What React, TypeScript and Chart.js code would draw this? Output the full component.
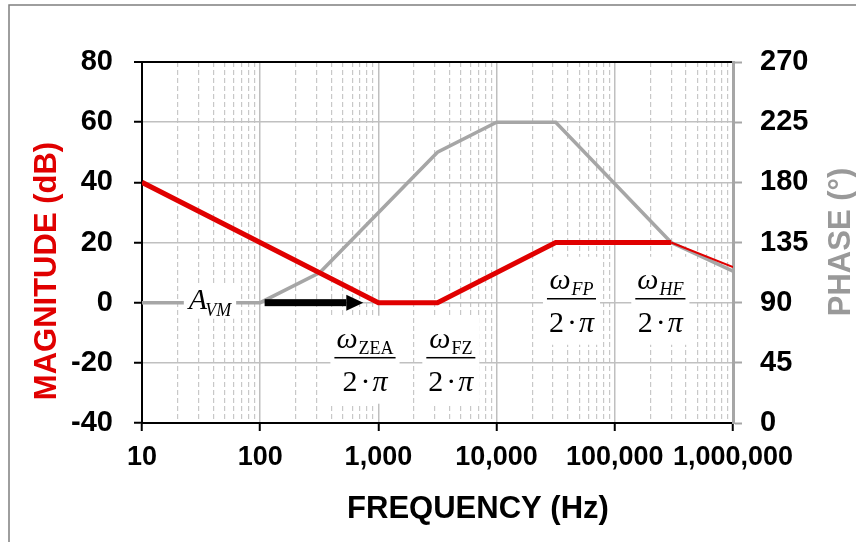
import React, { useEffect, useRef } from 'react';
import { Chart, registerables } from 'chart.js';

Chart.register(...registerables);

// ---- data ----
const magFreq = [10, 1000, 3162, 31623, 300000, 1000000];
const magnitudeDb = [40, 0, 0, 20, 20, 11.8];
const phaseFreq = [10, 100, 320, 3162, 10000, 31623, 300000, 1000000];
const phaseDeg = [90, 90, 112.5, 202.5, 225, 225, 135, 113.6];

const freqDecades = [10, 100, 1000, 10000, 100000, 1000000];
const freqLabels = ['10', '100', '1,000', '10,000', '100,000', '1,000,000'];
const minorMultipliers = [1, 2, 3, 4, 5, 6, 7, 8, 9];

const magMin = -40;
const magMax = 80;
const magStep = 20;
const phaseMin = 0;
const phaseMax = 270;
const phaseStep = 45;

const xTitle = 'FREQUENCY (Hz)';
const yTitle = 'MAGNITUDE (dB)';
const y1Title = 'PHASE (°)';

// annotation anchors in data units (frequency, dB)
const fractionSubs = ['ZEA', 'FZ', 'FP', 'HF'];
const fractionSubItalic = [false, false, true, true];
const fractionFreq = [770, 4100, 43000, 243000];
const fractionDb = [-18.3, -18.3, 1.3, 1.3];
const gainMain = 'A';
const gainSub = 'VM';
const gainFreq = 37.6;
const gainDb = -2;
const arrowFreq = [109, 745];
const arrowDb = 0;

const RED = '#e00000';
const GRAY = '#a6a6a6';
const SANS = '"Liberation Sans", Arial, sans-serif';
const SERIF = '"Liberation Serif", "Times New Roman", serif';

const xTickValues: number[] = [];
freqDecades.forEach((d, i) => {
  if (i === freqDecades.length - 1) {
    xTickValues.push(d);
  } else {
    minorMultipliers.forEach((m) => xTickValues.push(d * m));
  }
});

const decadeIndex = (v: number) => freqDecades.findIndex((d) => Math.abs(v - d) / d < 1e-6);

const overlayPlugin = {
  id: 'overlay',
  beforeDraw(chart: any) {
    const ctx = chart.ctx;
    ctx.save();
    ctx.fillStyle = '#fff';
    ctx.fillRect(0, 0, chart.width, chart.height);
    ctx.strokeStyle = '#7f7f7f';
    ctx.lineWidth = 1.5;
    ctx.strokeRect(9, 5, chart.width + 20, chart.height + 20);
    ctx.restore();
  },
  afterDatasetsDraw(chart: any) {
    const ctx = chart.ctx;
    const xs = chart.scales.x;
    const ys = chart.scales.y;
    ctx.save();

    // gain label A_VM
    {
      const cx = xs.getPixelForValue(gainFreq);
      const by = ys.getPixelForValue(gainDb);
      ctx.font = 'italic 30px ' + SERIF;
      const wA = ctx.measureText(gainMain).width;
      ctx.font = 'italic 18px ' + SERIF;
      const wS = ctx.measureText(gainSub).width;
      const w = wA + wS - 2;
      const left = cx - w / 2;
      ctx.fillStyle = '#fff';
      ctx.fillRect(left - 5, by - 25, w + 10, 35);
      ctx.fillStyle = '#000';
      ctx.textBaseline = 'alphabetic';
      ctx.textAlign = 'left';
      ctx.font = 'italic 30px ' + SERIF;
      ctx.fillText(gainMain, left, by);
      ctx.font = 'italic 18px ' + SERIF;
      ctx.fillText(gainSub, left + wA - 2, by + 7);
    }

    // arrow
    {
      const x0 = xs.getPixelForValue(arrowFreq[0]);
      const x1 = xs.getPixelForValue(arrowFreq[1]);
      const ay = ys.getPixelForValue(arrowDb);
      const head = 17;
      ctx.fillStyle = '#000';
      ctx.fillRect(x0, ay - 3.5, x1 - head - x0, 7);
      ctx.beginPath();
      ctx.moveTo(x1 - head, ay - 8);
      ctx.lineTo(x1, ay);
      ctx.lineTo(x1 - head, ay + 8);
      ctx.closePath();
      ctx.fill();
    }

    // fractions
    fractionSubs.forEach((sub, i) => {
      const cx = xs.getPixelForValue(fractionFreq[i]);
      const bar = ys.getPixelForValue(fractionDb[i]);
      const mainF = 'italic 30px ' + SERIF;
      const subF = (fractionSubItalic[i] ? 'italic ' : '') + '18px ' + SERIF;
      ctx.font = mainF;
      const wO = ctx.measureText('ω').width;
      ctx.font = subF;
      const wS = ctx.measureText(sub).width;
      const numW = wO + wS + 1;
      ctx.font = 'italic 30px ' + SERIF;
      const wPi = ctx.measureText('π').width;
      const denW = 30 + wPi;
      const barW = Math.max(numW, denW) + 4;
      // white box
      ctx.fillStyle = '#fff';
      ctx.fillRect(cx - barW / 2 - 4, bar - 42, barW + 8, 88);
      // numerator
      ctx.fillStyle = '#000';
      ctx.textAlign = 'left';
      ctx.textBaseline = 'alphabetic';
      const nl = cx - numW / 2;
      ctx.font = mainF;
      ctx.fillText('ω', nl, bar - 10);
      ctx.font = subF;
      ctx.fillText(sub, nl + wO + 1, bar - 4);
      // bar
      ctx.fillRect(cx - barW / 2, bar - 0.75, barW, 1.5);
      // denominator
      const dl = cx - denW / 2;
      ctx.font = '30px ' + SERIF;
      ctx.fillText('2', dl, bar + 33);
      ctx.textAlign = 'center';
      ctx.fillText('·', dl + 23, bar + 33);
      ctx.textAlign = 'left';
      ctx.font = 'italic 30px ' + SERIF;
      ctx.fillText('π', dl + 30, bar + 33);
    });

    ctx.restore();
  },
  afterDraw(chart: any) {
    const ctx = chart.ctx;
    ctx.save();
    ctx.font = 'bold 31px ' + SANS;
    ctx.textBaseline = 'alphabetic';
    ctx.textAlign = 'center';
    // x title
    ctx.fillStyle = '#000';
    ctx.fillText(xTitle, 478, 518);
    // left title
    ctx.save();
    ctx.translate(56, 271);
    ctx.rotate(-Math.PI / 2);
    ctx.fillStyle = RED;
    ctx.fillText(yTitle, 0, 0);
    ctx.restore();
    // right title
    ctx.save();
    ctx.translate(850, 242);
    ctx.rotate(-Math.PI / 2);
    ctx.fillStyle = '#999999';
    ctx.fillText(y1Title, 0, 0);
    ctx.restore();
    ctx.restore();
  },
};

export default function App() {
  const ref = useRef<HTMLCanvasElement | null>(null);
  useEffect(() => {
    if (!ref.current) return;
    const tickFont = { family: SANS, size: 29, weight: 'bold' as const };
    const xTickFont = { family: SANS, size: 27, weight: 'bold' as const };
    const chart = new Chart(ref.current, {
      type: 'line',
      data: {
        datasets: [
          {
            label: 'Magnitude',
            data: magFreq.map((f, i) => ({ x: f, y: magnitudeDb[i] })),
            borderColor: RED,
            backgroundColor: RED,
            borderWidth: 5,
            pointRadius: 0,
            yAxisID: 'y',
            order: 0,
            segment: {
              borderWidth: (c: any) => (c.p0.parsed.x >= 299999 ? 2 : 5),
            },
          },
          {
            label: 'Phase',
            data: phaseFreq.map((f, i) => ({ x: f, y: phaseDeg[i] })),
            borderColor: GRAY,
            backgroundColor: GRAY,
            borderWidth: 3.5,
            pointRadius: 0,
            yAxisID: 'y1',
            order: 1,
          },
        ],
      },
      options: {
        responsive: false,
        animation: false,
        events: [],
        layout: { padding: { top: 62, left: 0, right: 0, bottom: 0 } },
        plugins: { legend: { display: false }, tooltip: { enabled: false }, title: { display: false } },
        scales: {
          x: {
            type: 'logarithmic',
            min: freqDecades[0],
            max: freqDecades[freqDecades.length - 1],
            afterBuildTicks: (s: any) => {
              s.ticks = xTickValues.map((v) => ({ value: v }));
            },
            afterFit: (s: any) => {
              s.height = 119;
            },
            ticks: {
              autoSkip: false,
              maxRotation: 0,
              minRotation: 0,
              font: xTickFont,
              color: '#000',
              padding: 10,
              callback: (v: any) => {
                const i = decadeIndex(Number(v));
                return i >= 0 ? freqLabels[i] : '';
              },
            },
            grid: {
              color: (c: any) => (c.tick && decadeIndex(c.tick.value) >= 0 ? '#bfbfbf' : '#c8c8c8'),
              lineWidth: (c: any) => (c.tick && decadeIndex(c.tick.value) >= 0 ? 1.5 : 1.2),
              tickColor: (c: any) => (c.tick && decadeIndex(c.tick.value) >= 0 ? '#000' : 'rgba(0,0,0,0)'),
              tickLength: 8,
              tickWidth: 2,
            },
            border: {
              color: '#000',
              width: 2,
              dash: (c: any) => (c.tick && decadeIndex(c.tick.value) < 0 ? [5, 3] : []),
            },
          },
          y: {
            type: 'linear',
            position: 'left',
            min: magMin,
            max: magMax,
            afterFit: (s: any) => {
              s.width = 142;
            },
            ticks: { stepSize: magStep, font: tickFont, color: '#000', padding: 21 },
            grid: {
              color: (c: any) => (c.tick && c.tick.value === magMax ? '#000' : '#c0c0c0'),
              lineWidth: (c: any) => (c.tick && c.tick.value === magMax ? 2 : 1.5),
              tickColor: '#000',
              tickLength: 8,
              tickWidth: 2,
            },
            border: { color: '#000', width: 2 },
          },
          y1: {
            type: 'linear',
            position: 'right',
            min: phaseMin,
            max: phaseMax,
            afterFit: (s: any) => {
              s.width = 123;
            },
            ticks: { stepSize: phaseStep, font: tickFont, color: '#000', padding: 18 },
            grid: { drawOnChartArea: false, tickColor: GRAY, tickLength: 9, tickWidth: 2 },
            border: { color: GRAY, width: 3 },
          },
        },
      },
      plugins: [overlayPlugin],
    } as any);
    return () => chart.destroy();
  }, []);
  return (
    <div style={{ position: 'fixed', left: 0, top: 0, width: 856, height: 542, background: '#fff' }}>
      <canvas ref={ref} width={856} height={542} style={{ display: 'block', width: 856, height: 542 }} />
    </div>
  );
}
